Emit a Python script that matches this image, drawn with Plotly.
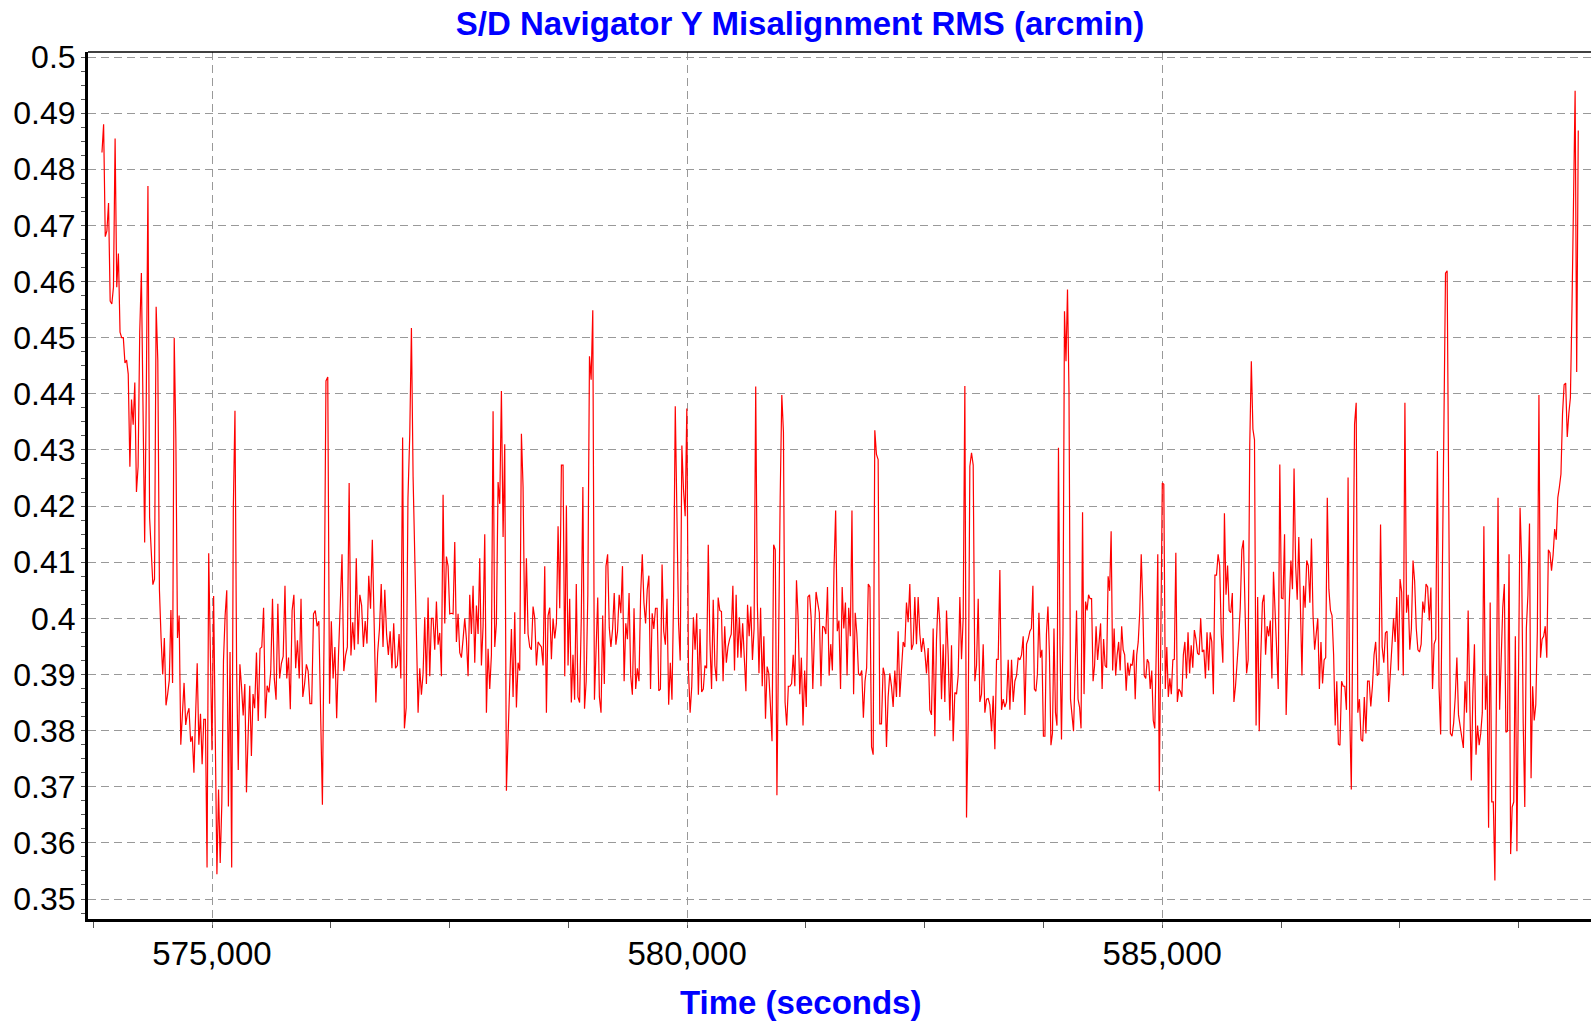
import numpy as np
import plotly.graph_objects as go

# ---------------- data ----------------
# segment boundaries in time (seconds); samples are evenly spaced inside each segment
SEGMENT_EDGES = [573842, 575449, 577081, 578712, 580344, 581975,
                 583607, 585238, 586870, 588186, 589378]

seg1 = [0.483, 0.488, 0.468, 0.469, 0.474, 0.4565, 0.456, 0.459, 0.4855, 0.459, 0.465, 0.451, 0.450, 0.450,
        0.4455, 0.446, 0.4435, 0.427, 0.439, 0.4345, 0.442, 0.4225, 0.427, 0.451, 0.4615, 0.434, 0.4135, 0.440,
        0.477, 0.418, 0.4125, 0.406, 0.407, 0.4555, 0.446, 0.405, 0.3965, 0.390, 0.3965, 0.3845, 0.3865, 0.389,
        0.4015, 0.3885, 0.450, 0.432, 0.3965, 0.4005, 0.3775, 0.383, 0.3885, 0.381, 0.383, 0.384, 0.378, 0.379,
        0.3725, 0.3825, 0.392, 0.3775, 0.383, 0.374, 0.382, 0.382, 0.3556, 0.4116, 0.395, 0.3765, 0.404, 0.3755,
        0.3544, 0.3695, 0.3564, 0.367, 0.3925, 0.4005, 0.405, 0.3665, 0.394, 0.3556, 0.4198, 0.437, 0.3912, 0.373,
        0.3918, 0.3878, 0.3827, 0.3883, 0.369, 0.379, 0.388, 0.3755, 0.3865]

seg2 = [0.384, 0.3939, 0.3817, 0.3946, 0.3949, 0.4019, 0.3822, 0.388, 0.3868, 0.3905, 0.4035, 0.3893, 0.3855,
        0.4026, 0.3893, 0.392, 0.3932, 0.4058, 0.3893, 0.393, 0.3838, 0.4014, 0.4042, 0.3911, 0.3961, 0.3893,
        0.4035, 0.386, 0.3883, 0.3918, 0.3906, 0.3848, 0.3848, 0.4008, 0.4014, 0.3986, 0.3995, 0.3829, 0.3668,
        0.3995, 0.4423, 0.443, 0.3848, 0.3995, 0.3893, 0.3949, 0.3822, 0.3932, 0.4026, 0.4114, 0.3906, 0.3934,
        0.3949, 0.4241, 0.3934, 0.3993, 0.3944, 0.4107, 0.3954, 0.4042, 0.4023, 0.3949, 0.3995, 0.3955, 0.4076,
        0.4017, 0.414, 0.3991, 0.385, 0.3939, 0.3981, 0.4061, 0.3949, 0.4051, 0.3972, 0.3935, 0.3977, 0.3911,
        0.3991, 0.3911, 0.3916, 0.3972, 0.3893, 0.4322, 0.3804, 0.3841, 0.4215]

seg3 = [0.4327, 0.4517, 0.4252, 0.4093, 0.3935, 0.3832, 0.3911, 0.3864, 0.3902, 0.4002, 0.3883, 0.4037, 0.3897,
        0.4000, 0.4000, 0.3944, 0.4030, 0.3953, 0.3974, 0.3897, 0.4220, 0.3991, 0.4110, 0.4093, 0.4008, 0.4009,
        0.4008, 0.4136, 0.3958, 0.4008, 0.3939, 0.3930, 0.3963, 0.4000, 0.3963, 0.3897, 0.4042, 0.3972, 0.4058,
        0.3921, 0.4023, 0.3972, 0.4107, 0.3916, 0.3986, 0.4150, 0.3832, 0.3946, 0.3874, 0.3935, 0.4369, 0.3949,
        0.3991, 0.4243, 0.4204, 0.4405, 0.4145, 0.4310, 0.3693, 0.3783, 0.3879, 0.3981, 0.3860, 0.4011, 0.3841,
        0.3921, 0.3907, 0.4329, 0.4234, 0.3972, 0.4107, 0.3972, 0.3949, 0.3944, 0.4021, 0.4000, 0.3916, 0.3958,
        0.3953, 0.3949, 0.3916, 0.4093, 0.3832, 0.4005, 0.4019, 0.3927, 0.4000, 0.3964, 0.3991, 0.4164, 0.4018,
        0.4273, 0.4273]

seg4 = [0.3897, 0.4201, 0.3916, 0.4035, 0.3850, 0.3935, 0.3855, 0.4061, 0.3860, 0.3850, 0.3995, 0.4234, 0.3839,
        0.3888, 0.4042, 0.4467, 0.4425, 0.4549, 0.3855, 0.3944, 0.4037, 0.3860, 0.3832, 0.4005, 0.3883, 0.4093,
        0.4114, 0.3983, 0.3949, 0.3981, 0.4045, 0.3953, 0.3977, 0.4042, 0.4009, 0.4093, 0.3888, 0.3991, 0.3963,
        0.4045, 0.3897, 0.3864, 0.4018, 0.3874, 0.3911, 0.3888, 0.4042, 0.4114, 0.4028, 0.3991, 0.4051, 0.4076,
        0.3874, 0.4009, 0.3981, 0.4018, 0.4018, 0.3871, 0.3874, 0.4096, 0.3977, 0.3953, 0.4035, 0.3846, 0.3921,
        0.3855, 0.4042, 0.4378, 0.4191, 0.3991, 0.3925, 0.4308, 0.4229, 0.4182, 0.4374, 0.3907, 0.3832, 0.3879,
        0.4002, 0.3944, 0.4009, 0.3864, 0.3981, 0.3869, 0.3874, 0.3916, 0.3911, 0.4131, 0.3958, 0.3874, 0.4033,
        0.3916, 0.3888, 0.4037]

seg5 = [0.4014, 0.4012, 0.3888, 0.3986, 0.3921, 0.3949, 0.3963, 0.3972, 0.4058, 0.3907, 0.4042, 0.3930, 0.4002,
        0.3930, 0.3991, 0.3916, 0.3870, 0.4024, 0.3968, 0.4021, 0.3926, 0.3982, 0.4413, 0.4028, 0.3902, 0.4019,
        0.3879, 0.3968, 0.3821, 0.3914, 0.3902, 0.3846, 0.3781, 0.4131, 0.4122, 0.3685, 0.3991, 0.4215, 0.4398,
        0.4332, 0.3851, 0.3809, 0.3879, 0.3879, 0.3884, 0.3935, 0.3879, 0.4068, 0.4000, 0.3865, 0.3930, 0.3809,
        0.3907, 0.3842, 0.4038, 0.4042, 0.4000, 0.3874, 0.3972, 0.4047, 0.4028, 0.4010, 0.3879, 0.3986, 0.3984,
        0.3972, 0.4056, 0.3898, 0.3954, 0.3907, 0.4089, 0.4192, 0.3977, 0.3996, 0.3874, 0.4056, 0.3982, 0.4028,
        0.3898, 0.4019, 0.3968, 0.4192, 0.3865, 0.4010, 0.3972, 0.3902, 0.3898, 0.3907, 0.3823, 0.3888, 0.3912,
        0.4061, 0.4056, 0.3771, 0.3757]

seg6 = [0.4335, 0.4292, 0.4283, 0.3812, 0.3812, 0.3912, 0.3898, 0.3771, 0.3860, 0.3902, 0.3879, 0.3842, 0.3907,
        0.3860, 0.3977, 0.3860, 0.3912, 0.3958, 0.3949, 0.4028, 0.3993, 0.4061, 0.3944, 0.3954, 0.4038, 0.3954,
        0.4038, 0.3972, 0.3940, 0.3965, 0.3940, 0.3902, 0.3947, 0.3837, 0.3828, 0.3982, 0.3790, 0.3963, 0.4038,
        0.3991, 0.3856, 0.3954, 0.3851, 0.4014, 0.3935, 0.3818, 0.3952, 0.3781, 0.3868, 0.3865, 0.3898, 0.4038,
        0.3927, 0.4000, 0.4414, 0.3645, 0.3813, 0.4271, 0.4295, 0.4273, 0.3888, 0.3916, 0.4035, 0.3851, 0.3865,
        0.3954, 0.3832, 0.3856, 0.3857, 0.3846, 0.3799, 0.3862, 0.3767, 0.3927, 0.3927, 0.4086, 0.3837, 0.3856,
        0.3842, 0.3851, 0.3926, 0.3837, 0.3926, 0.3851, 0.3888, 0.3898, 0.3930, 0.3926, 0.3935, 0.3968, 0.3828,
        0.3954, 0.3963]

seg7 = [0.3977, 0.3982, 0.4058, 0.3874, 0.3870, 0.3900, 0.4010, 0.3930, 0.3944, 0.3790, 0.3790, 0.3972, 0.4021,
        0.3935, 0.3774, 0.3795, 0.3982, 0.3832, 0.3809, 0.4304, 0.3954, 0.3784, 0.3972, 0.4547, 0.4458, 0.4586,
        0.4402, 0.3856, 0.3823, 0.3799, 0.3898, 0.4014, 0.3856, 0.3842, 0.3804, 0.4189, 0.3865, 0.4030, 0.4014,
        0.4042, 0.4035, 0.4035, 0.3888, 0.3916, 0.3986, 0.3926, 0.3958, 0.3991, 0.3874, 0.3963, 0.3916, 0.3912,
        0.4075, 0.4049, 0.4155, 0.3907, 0.3982, 0.3898, 0.3935, 0.3958, 0.3907, 0.3986, 0.3944, 0.3935, 0.3871,
        0.3921, 0.3898, 0.3918, 0.3916, 0.3944, 0.3856, 0.3935, 0.3958, 0.4010, 0.4114, 0.4028, 0.3898, 0.3893,
        0.3927, 0.3921, 0.3874, 0.3907, 0.3818, 0.3804, 0.3944, 0.4114, 0.3692, 0.3963, 0.4241, 0.4239, 0.3874,
        0.3949, 0.3860, 0.3893, 0.3865, 0.3926, 0.3927, 0.4117, 0.3851, 0.3874, 0.3870, 0.3860, 0.3935]

seg8 = [0.3958, 0.3893, 0.3975, 0.3902, 0.3952, 0.3912, 0.3979, 0.3963, 0.3938, 0.3935, 0.4000, 0.3940, 0.3944,
        0.3893, 0.3975, 0.3907, 0.3975, 0.3958, 0.3865, 0.4077, 0.4077, 0.4114, 0.4094, 0.3972, 0.3921, 0.4187,
        0.4042, 0.4094, 0.4014, 0.4010, 0.4045, 0.3851, 0.3879, 0.3916, 0.3963, 0.4019, 0.4122, 0.4139, 0.3991,
        0.3902, 0.3926, 0.4309, 0.4458, 0.4337, 0.4318, 0.3809, 0.4038, 0.3799, 0.3935, 0.4028, 0.4042, 0.3935,
        0.3986, 0.3968, 0.3996, 0.3893, 0.4083, 0.4019, 0.3935, 0.3874, 0.4274, 0.4036, 0.4035, 0.4150, 0.3828,
        0.3944, 0.4028, 0.4103, 0.4052, 0.4267, 0.4094, 0.4033, 0.4145, 0.4024, 0.3898, 0.4058, 0.4019, 0.4103,
        0.4094, 0.4028, 0.4142, 0.4005, 0.3944, 0.3972, 0.4000, 0.3874, 0.3958, 0.3884, 0.3926, 0.3930, 0.4215,
        0.4052, 0.4014, 0.4005, 0.3935, 0.3809, 0.3888, 0.3776]

seg9 = [0.3774, 0.3888, 0.3879, 0.3879, 0.3837, 0.4251, 0.3832, 0.3695, 0.4038, 0.4346, 0.4384, 0.3832, 0.3856,
        0.3784, 0.3781, 0.3860, 0.3795, 0.3888, 0.3888, 0.3843, 0.3879, 0.3935, 0.3958, 0.3898, 0.3902, 0.4167,
        0.3949, 0.3921, 0.3974, 0.3977, 0.3851, 0.3902, 0.3944, 0.4000, 0.3958, 0.4038, 0.3907, 0.4070, 0.4047,
        0.3898, 0.4384, 0.4010, 0.4042, 0.3944, 0.3982, 0.4103, 0.4066, 0.3982, 0.3944, 0.3940, 0.3954, 0.4030,
        0.4010, 0.4061, 0.4056, 0.3996, 0.4055, 0.3874, 0.3954, 0.3963, 0.4298, 0.3879, 0.3793, 0.4066, 0.4402,
        0.4615, 0.4619, 0.4253, 0.3795, 0.3790, 0.3813, 0.3860, 0.3930, 0.3828, 0.3809, 0.3795, 0.3769]

seg10 = [0.3888, 0.3832, 0.4014, 0.3842, 0.3711, 0.3865, 0.3954, 0.3757, 0.3809, 0.3774, 0.3795, 0.3832, 0.4164,
         0.3837, 0.3898, 0.3627, 0.4028, 0.3673, 0.3673, 0.3533, 0.3926, 0.4215, 0.3837, 0.3935, 0.4019, 0.4061,
         0.3797, 0.3799, 0.4114, 0.3580, 0.3664, 0.3673, 0.3968, 0.3585, 0.3888, 0.4197, 0.4103, 0.3813, 0.3664,
         0.3982, 0.4042, 0.4169, 0.3715, 0.3879, 0.3818, 0.3846, 0.3977, 0.4398, 0.3930, 0.3963, 0.3968, 0.3986,
         0.3930, 0.4122, 0.4117, 0.4085, 0.4113, 0.4159, 0.4140, 0.4215, 0.4234, 0.4257, 0.4365, 0.4416, 0.4419,
         0.4323, 0.4365, 0.4393, 0.4552, 0.4739, 0.4940, 0.4439, 0.4869]

SEGMENTS = [seg1, seg2, seg3, seg4, seg5, seg6, seg7, seg8, seg9, seg10]

X_TICKS = [575000, 580000, 585000]
X_TICK_TEXT = ["575,000", "580,000", "585,000"]
Y_TICKS = [0.35, 0.36, 0.37, 0.38, 0.39, 0.40, 0.41, 0.42, 0.43, 0.44, 0.45, 0.46, 0.47, 0.48, 0.49, 0.50]
Y_TICK_TEXT = ["0.35", "0.36", "0.37", "0.38", "0.39", "0.4", "0.41", "0.42", "0.43", "0.44",
               "0.45", "0.46", "0.47", "0.48", "0.49", "0.5"]

# ---------------- build series ----------------
times, values = [], []
for i, seg in enumerate(SEGMENTS):
    last = i == len(SEGMENTS) - 1
    t = np.linspace(SEGMENT_EDGES[i], SEGMENT_EDGES[i + 1], len(seg), endpoint=last)
    times.extend(t.tolist())
    values.extend(seg)

FONT = "Liberation Sans, Arial, sans-serif"
BLUE = "#0000ff"

W, H = 1591, 1023
M_L, M_R, M_T, M_B = 88, 0, 52, 104
PLOT_H = H - M_T - M_B

fig = go.Figure()
fig.add_trace(go.Scatter(x=times, y=values, mode="lines",
                         line=dict(color="#ff0000", width=1.2), showlegend=False))

fig.update_layout(
    width=W, height=H,
    margin=dict(l=M_L, r=M_R, t=M_T, b=M_B, autoexpand=False),
    paper_bgcolor="white", plot_bgcolor="white",
    font=dict(family=FONT, color="black"),
    title=dict(text="<b>S/D Navigator Y Misalignment RMS (arcmin)</b>",
               font=dict(family=FONT, size=33, color=BLUE),
               x=800 / W, xanchor="center", xref="container",
               y=1 - 23 / H, yanchor="middle", yref="container"),
)

fig.update_xaxes(
    range=[573695, 589512], automargin=False,
    tickvals=X_TICKS, ticktext=X_TICK_TEXT,
    tickfont=dict(family=FONT, size=33, color="black"),
    ticks="outside", ticklen=3, tickcolor="#888888", tickwidth=1,
    showline=True, linecolor="black", linewidth=3,
    showgrid=True, gridcolor="#999999", gridwidth=1, griddash="8px,5px",
    zeroline=False,
    minor=dict(dtick=1250, tick0=0, ticks="outside", ticklen=6, tickcolor="#555555", showgrid=False),
)

fig.update_yaxes(
    range=[0.34644, 0.50089], automargin=False,
    tickvals=Y_TICKS, ticktext=Y_TICK_TEXT,
    tickfont=dict(family=FONT, size=32, color="black"),
    ticks="outside", ticklen=3, tickcolor="#555555", tickwidth=1,
    showline=True, linecolor="black", linewidth=3,
    showgrid=True, gridcolor="#999999", gridwidth=1, griddash="8px,5px",
    zeroline=False,
    minor=dict(dtick=0.0025, tick0=0.35, ticks="outside", ticklen=4, tickcolor="#555555", showgrid=False),
)

# x-axis title placed as an annotation below the tick labels
fig.add_annotation(text="<b>Time (seconds)</b>", xref="paper", yref="paper",
                   x=(800 - M_L) / (W - M_L - M_R), y=-(1002 - (H - M_B)) / PLOT_H,
                   xanchor="center", yanchor="middle", showarrow=False,
                   font=dict(family=FONT, size=33, color=BLUE))

# thin top frame line
fig.add_shape(type="line", xref="paper", yref="paper", x0=0, x1=1, y0=1, y1=1,
              line=dict(color="black", width=1.5))

fig.write_html("out.html",
               config={"displayModeBar": False},
               post_script="document.body.style.margin='0';document.body.style.padding='0';"
                           "document.body.style.overflow='hidden';")
